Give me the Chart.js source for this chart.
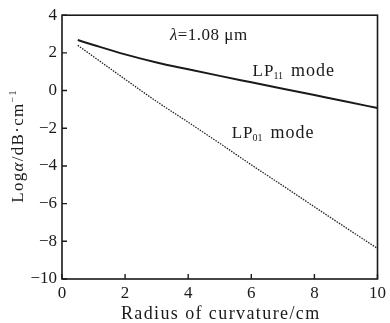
<!DOCTYPE html>
<html>
<head>
<meta charset="utf-8">
<script src="https://cdn.jsdelivr.net/npm/chart.js@4.4.0/dist/chart.umd.min.js"></script>
<style>
  html, body { margin: 0; padding: 0; background: #fff; }
  #wrap { width: 390px; height: 323px; position: relative; }
</style>
</head>
<body>
<div id="wrap"><canvas id="chart" width="390" height="323"></canvas></div>
<script>
// bend radius (cm) and log attenuation values
const radiusCm = [0.5, 1, 2, 3, 4, 5, 6, 7, 8, 9, 10];
const lp11Loss = [2.68, 2.42, 1.92, 1.49, 1.13, 0.78, 0.44, 0.10, -0.24, -0.58, -0.93];
const lp01Loss = [2.40, 1.80, 0.60, -0.58, -1.68, -2.80, -3.94, -5.05, -6.17, -7.28, -8.38];

const xTicks = [0, 2, 4, 6, 8, 10];
const yTicks = [-10, -8, -6, -4, -2, 0, 2, 4];

const serif = "'Liberation Serif', 'DejaVu Serif', serif";
const ink = '#1a1a1a';

function toPoints(xs, ys) {
    return xs.map((x, i) => ({ x: x, y: ys[i] }));
}

function fmtTick(v) {
    return v < 0 ? '\u2212' + Math.abs(v) : String(v);
}

// draws a run of [text, font, dy] pieces starting at x, returns end x
function drawRun(ctx, parts, x, y) {
    parts.forEach(p => {
        ctx.font = p[1] + serif;
        ctx.fillText(p[0], x, y + (p[2] || 0));
        x += ctx.measureText(p[0]).width;
    });
    return x;
}

function runWidth(ctx, parts) {
    let w = 0;
    parts.forEach(p => { ctx.font = p[1] + serif; w += ctx.measureText(p[0]).width; });
    return w;
}

// box frame, inward ticks, titles and in-plot labels
const frameAndLabels = {
    id: 'frameAndLabels',
    afterDraw(chart) {
        const ctx = chart.ctx;
        const area = chart.chartArea;
        const xs = chart.scales.x;
        const ys = chart.scales.y;
        ctx.save();
        ctx.strokeStyle = ink;
        ctx.lineWidth = 1.6;
        ctx.strokeRect(area.left, area.top, area.right - area.left, area.bottom - area.top);

        ctx.lineWidth = 1.4;
        ctx.beginPath();
        xTicks.forEach(v => {
            const px = xs.getPixelForValue(v);
            ctx.moveTo(px, area.bottom);
            ctx.lineTo(px, area.bottom - 5);
        });
        yTicks.forEach(v => {
            const py = ys.getPixelForValue(v);
            ctx.moveTo(area.left, py);
            ctx.lineTo(area.left + 5, py);
        });
        ctx.stroke();

        ctx.fillStyle = ink;
        ctx.textBaseline = 'middle';
        ctx.textAlign = 'left';

        // wavelength note
        ctx.letterSpacing = '0.5px';
        drawRun(ctx, [['\u03bb', 'italic 17px '], ['=1.08 \u03bcm', '17px ']],
            xs.getPixelForValue(3.42), ys.getPixelForValue(2.92));

        // mode labels
        const drawMode = (sub, xv, yv) => {
            const x0 = xs.getPixelForValue(xv);
            const y0 = ys.getPixelForValue(yv);
            ctx.letterSpacing = '1px';
            let x1 = drawRun(ctx, [['LP', '17px ']], x0, y0);
            ctx.letterSpacing = '0px';
            x1 = drawRun(ctx, [[sub, '10px ', 5]], x1 - 1, y0);
            ctx.letterSpacing = '1px';
            drawRun(ctx, [['mode', '18px ']], x1 + 8, y0);
        };
        drawMode('11', 6.04, 1.0);
        drawMode('01', 5.38, -2.26);

        // x axis title
        ctx.letterSpacing = '1.4px';
        ctx.font = '18px ' + serif;
        ctx.textAlign = 'center';
        ctx.fillText('Radius of curvature/cm', (area.left + area.right) / 2 + 1, 314);

        // y axis title with italic alpha
        ctx.textAlign = 'left';
        ctx.translate(19, 146);
        ctx.rotate(-Math.PI / 2);
        ctx.letterSpacing = '1.3px';
        const parts = [
            ['Log', '17px '],
            ['\u03b1', 'italic 17px '],
            ['/dB\u00b7cm', '17px '],
            ['\u22121', '10px ', -6]
        ];
        drawRun(ctx, parts, -runWidth(ctx, parts) / 2, 0);
        ctx.restore();
    }
};

new Chart(document.getElementById('chart'), {
    type: 'scatter',
    data: {
        datasets: [
            {
                label: 'LP11 mode',
                data: toPoints(radiusCm, lp11Loss),
                showLine: true,
                borderColor: ink,
                borderWidth: 2,
                pointRadius: 0,
                cubicInterpolationMode: 'monotone'
            },
            {
                label: 'LP01 mode',
                data: toPoints(radiusCm, lp01Loss),
                showLine: true,
                borderColor: '#222',
                borderWidth: 1.3,
                borderDash: [1.5, 1.2],
                pointRadius: 0,
                cubicInterpolationMode: 'monotone'
            }
        ]
    },
    options: {
        responsive: false,
        animation: false,
        layout: { padding: { top: 13, right: 12, left: 0, bottom: 0 } },
        plugins: { legend: { display: false }, tooltip: { enabled: false } },
        scales: {
            x: {
                type: 'linear',
                min: 0,
                max: 10,
                afterBuildTicks: s => { s.ticks = xTicks.map(v => ({ value: v })); },
                afterFit: s => { s.height = 44; },
                grid: { display: false, drawTicks: false },
                border: { display: false },
                ticks: {
                    color: ink,
                    padding: 4,
                    maxRotation: 0,
                    font: { family: serif, size: 17 },
                    callback: v => fmtTick(v)
                }
            },
            y: {
                min: -10,
                max: 4,
                afterBuildTicks: s => { s.ticks = yTicks.map(v => ({ value: v })); },
                afterFit: s => { s.width = 62; },
                grid: { display: false, drawTicks: false },
                border: { display: false },
                ticks: {
                    color: ink,
                    padding: 5,
                    font: { family: serif, size: 17 },
                    callback: v => fmtTick(v)
                }
            }
        }
    },
    plugins: [frameAndLabels]
});
</script>
</body>
</html>
